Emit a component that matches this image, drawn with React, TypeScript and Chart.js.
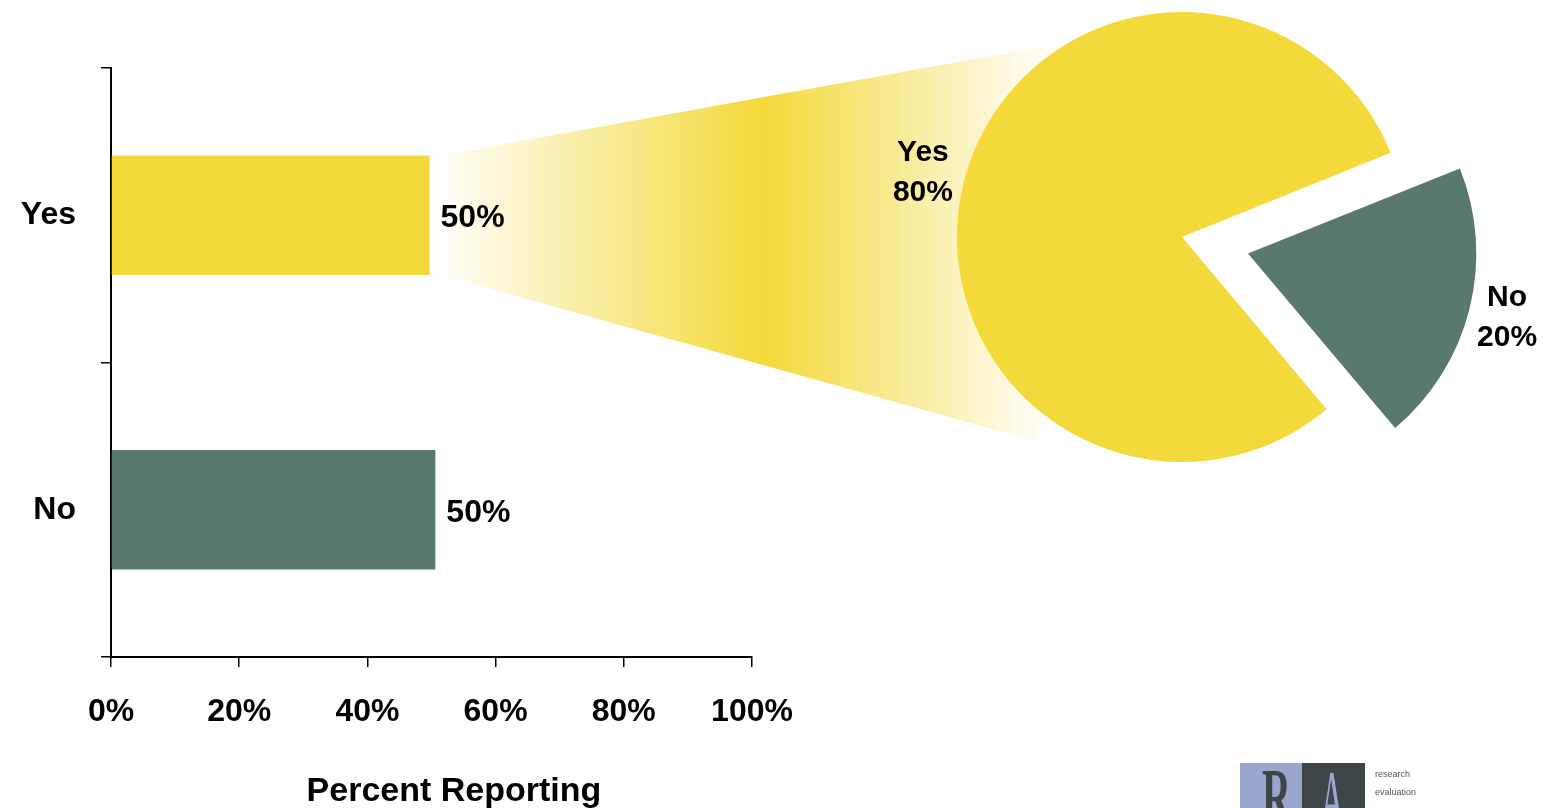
import React, { useEffect, useRef } from "react";
import { Chart, registerables } from "chart.js";
Chart.register(...registerables);

const barCategories = ["Yes", "No"];
const barValues = [49.7, 50.6];
const barValueLabels = ["50%", "50%"];
const xTickValues = [0, 20, 40, 60, 80, 100];
const xTickLabels = ["0%", "20%", "40%", "60%", "80%", "100%"];
const xAxisTitle = "Percent Reporting";

const pieCategories = ["Yes", "No"];
const pieValues = [80, 20];
const pieValueLabels = ["80%", "20%"];

const YELLOW = "rgb(244,217,58)";
const GREEN = "rgb(90,122,105)";
const FONT = '"Liberation Sans", Arial, sans-serif';

const PIE_LEFT = 813;
const PIE_TOP = 0;
const PIE_W = 738;
const PIE_H = 474;
// Chart.js translates an arc by offset / 4
const NO_SLICE_SHIFT = 68;

export default function App() {
  const barRef = useRef<HTMLCanvasElement>(null);
  const pieRef = useRef<HTMLCanvasElement>(null);

  useEffect(() => {
    const pieLabelPlugin = {
      id: "pieLabels",
      afterDatasetsDraw(chart: any) {
        const ctx = chart.ctx;
        const meta = chart.getDatasetMeta(0);
        const ds = chart.data.datasets[0];
        ctx.save();
        ctx.fillStyle = "#000";
        ctx.font = `bold 30px ${FONT}`;
        ctx.textAlign = "center";
        ctx.textBaseline = "middle";
        meta.data.forEach((arc: any, i: number) => {
          const mid = (arc.startAngle + arc.endAngle) / 2;
          const off = Array.isArray(ds.offset) ? ds.offset[i] / 4 : 0;
          const r = arc.outerRadius + off + 42;
          const x = arc.x + Math.cos(mid) * r;
          const y = arc.y + Math.sin(mid) * r;
          ctx.fillText(pieCategories[i], x, y - 20);
          ctx.fillText(pieValueLabels[i], x, y + 20);
        });
        ctx.restore();
      },
    };

    const pie = new Chart(pieRef.current as HTMLCanvasElement, {
      type: "pie",
      data: {
        labels: pieCategories,
        datasets: [
          {
            data: pieValues,
            backgroundColor: [YELLOW, GREEN],
            borderWidth: 0,
            offset: [0, NO_SLICE_SHIFT * 4],
          } as any,
        ],
      },
      options: {
        responsive: false,
        animation: false,
        events: [],
        rotation: 140,
        radius: 225,
        plugins: { legend: { display: false }, tooltip: { enabled: false } },
      } as any,
      plugins: [pieLabelPlugin],
    });

    const funnelPlugin = {
      id: "funnel",
      beforeDatasetsDraw(chart: any) {
        const bar = chart.getDatasetMeta(0).data[0] as any;
        const arc = pie.getDatasetMeta(0).data[0] as any;
        if (!bar || !arc) return;
        const cx = arc.x + PIE_LEFT;
        const cy = arc.y + PIE_TOP;
        const R = arc.outerRadius;
        const bx = bar.x;
        const top = bar.y - bar.height / 2 + 2;
        const bot = bar.y + bar.height / 2 - 3;
        const trx = cx - 0.54 * R;
        const try_ = cy - 0.86 * R;
        const brx = cx - 0.64 * R;
        const bry = cy + 0.91 * R;
        const ctx = chart.ctx;
        const g = ctx.createLinearGradient(bx, 0, trx, 0);
        g.addColorStop(0, "rgba(244,217,58,0)");
        g.addColorStop(0.53, "rgba(244,217,58,1)");
        g.addColorStop(0.94, "rgba(244,217,58,0.1)");
        g.addColorStop(1, "rgba(244,217,58,0.03)");
        ctx.save();
        ctx.beginPath();
        ctx.moveTo(bx, top);
        ctx.lineTo(trx, try_);
        ctx.lineTo(brx, bry);
        ctx.lineTo(bx, bot);
        ctx.closePath();
        ctx.fillStyle = g;
        ctx.fill();
        ctx.restore();
      },
      afterDatasetsDraw(chart: any) {
        const ctx = chart.ctx;
        const meta = chart.getDatasetMeta(0);
        ctx.save();
        ctx.fillStyle = "#000";
        ctx.font = `bold 32px ${FONT}`;
        ctx.textAlign = "left";
        ctx.textBaseline = "middle";
        meta.data.forEach((b: any, i: number) => {
          ctx.fillText(barValueLabels[i], b.x + 11, b.y + 3);
        });
        const area = chart.chartArea;
        ctx.font = `bold 34px ${FONT}`;
        ctx.textAlign = "center";
        ctx.textBaseline = "alphabetic";
        ctx.fillText(xAxisTitle, area.left + area.width * 0.535, area.bottom + 144);
        ctx.restore();
      },
    };

    const tickFont = { family: FONT, size: 32, weight: "bold" as const };

    const bar = new Chart(barRef.current as HTMLCanvasElement, {
      type: "bar",
      data: {
        labels: barCategories,
        datasets: [
          {
            data: barValues,
            backgroundColor: [YELLOW, GREEN],
            borderWidth: 0,
            barPercentage: 0.405,
            categoryPercentage: 1,
          },
        ],
      },
      options: {
        indexAxis: "y",
        responsive: false,
        animation: false,
        events: [],
        layout: { padding: { top: 68, right: 799, bottom: 0, left: 0 } },
        plugins: { legend: { display: false }, tooltip: { enabled: false } },
        scales: {
          x: {
            type: "linear",
            min: 0,
            max: 100,
            afterBuildTicks: (s: any) => {
              s.ticks = xTickValues.map((v) => ({ value: v }));
            },
            afterFit: (s: any) => {
              s.height = 151;
            },
            ticks: {
              font: tickFont,
              color: "#000",
              padding: 26,
              maxRotation: 0,
              callback: (v: any) => xTickLabels[xTickValues.indexOf(Number(v))],
            },
            grid: {
              drawOnChartArea: false,
              drawTicks: true,
              tickLength: 10,
              color: "#000",
              lineWidth: 1.5,
            },
            border: { display: true, color: "#000", width: 2 },
          },
          y: {
            type: "category",
            offset: true,
            afterFit: (s: any) => {
              s.width = 111;
            },
            ticks: { font: tickFont, color: "#000", padding: 25 },
            grid: {
              offset: true,
              drawOnChartArea: false,
              drawTicks: true,
              tickLength: 10,
              color: "#000",
              lineWidth: 1.5,
            },
            border: { display: true, color: "#000", width: 2 },
          },
        },
      } as any,
      plugins: [funnelPlugin],
    });

    return () => {
      bar.destroy();
      pie.destroy();
    };
  }, []);

  return (
    <div
      style={{
        position: "fixed",
        left: 0,
        top: 0,
        width: 1551,
        height: 808,
        overflow: "hidden",
        background: "#fff",
      }}
    >
      <canvas
        ref={barRef}
        width={1551}
        height={808}
        style={{ position: "absolute", left: 0, top: 0 }}
      />
      <canvas
        ref={pieRef}
        width={PIE_W}
        height={PIE_H}
        style={{ position: "absolute", left: PIE_LEFT, top: PIE_TOP }}
      />
      <div
        style={{
          position: "absolute",
          left: 1240,
          top: 763,
          width: 125,
          height: 45,
          overflow: "hidden",
          display: "flex",
        }}
      >
        <div
          style={{
            width: 62,
            height: 45,
            background: "rgb(155,166,206)",
            position: "relative",
            overflow: "hidden",
          }}
        >
          <span
            style={{
              position: "absolute",
              left: 22,
              top: -6,
              fontFamily: '"Liberation Serif", serif',
              fontWeight: "bold",
              fontSize: 80,
              lineHeight: "80px",
              color: "rgb(62,70,73)",
              transform: "scaleX(0.5)",
              transformOrigin: "left top",
            }}
          >
            R
          </span>
        </div>
        <div
          style={{
            width: 63,
            height: 45,
            background: "rgb(62,70,73)",
            position: "relative",
            overflow: "hidden",
          }}
        >
          <span
            style={{
              position: "absolute",
              left: 18,
              top: -4,
              fontFamily: '"Liberation Serif", serif',
              fontSize: 80,
              lineHeight: "80px",
              color: "rgb(155,166,206)",
              transform: "scaleX(0.42)",
              transformOrigin: "left top",
            }}
          >
            A
          </span>
        </div>
      </div>
      <div
        style={{
          position: "absolute",
          left: 1375,
          top: 765,
          fontFamily: '"Liberation Sans", Arial, sans-serif',
          fontSize: 9,
          lineHeight: "18px",
          color: "#555",
        }}
      >
        <div>research</div>
        <div>evaluation</div>
      </div>
    </div>
  );
}
